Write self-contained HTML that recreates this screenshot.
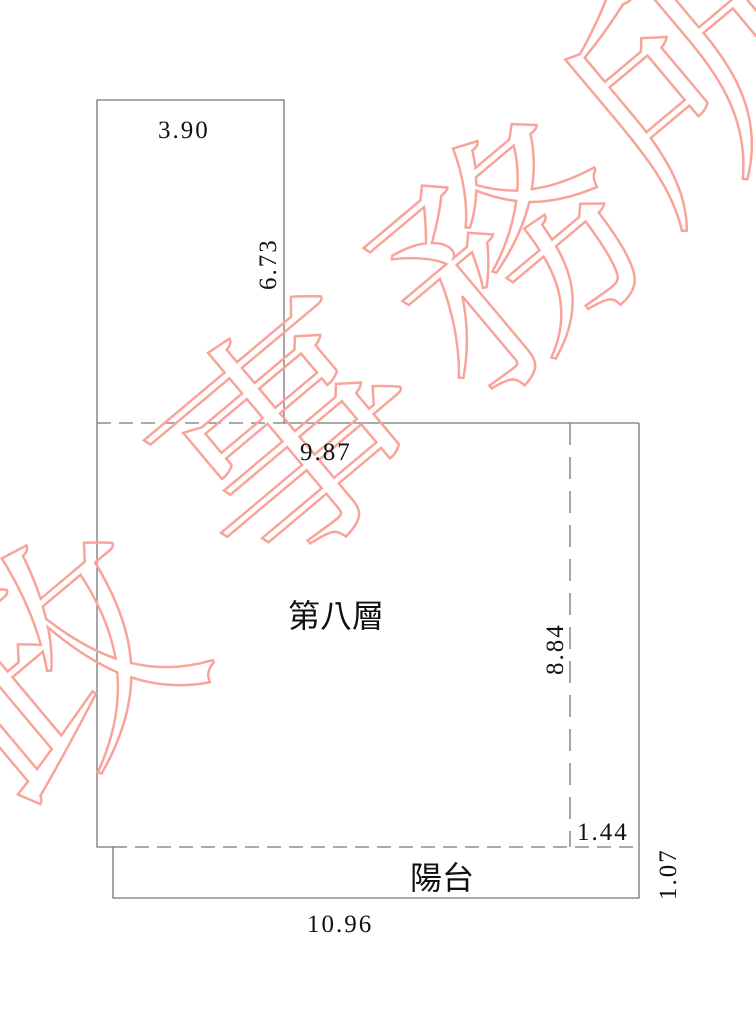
<!DOCTYPE html>
<html><head><meta charset="utf-8"><style>
html,body{margin:0;padding:0;background:#fff;width:756px;height:1012px;overflow:hidden;position:relative}
.w{position:absolute;font-family:"Noto Serif CJK SC","Noto Sans CJK TC",serif;font-size:250px;line-height:1;color:transparent;-webkit-text-stroke:2.5px #f8a49a;transform:translate(-50%,-50%) rotate(-40deg);white-space:nowrap}
.t{position:absolute;font-family:"Liberation Serif","Noto Serif CJK SC",serif;color:#111;font-size:25px;line-height:1;white-space:nowrap}
svg{position:absolute;left:0;top:0}
</style></head><body>
<svg width="756" height="1012">
<g stroke="#777" stroke-width="1.3" fill="none">
<polyline points="97,423 97,100 284,100 284,423"/>
<line x1="97" y1="423" x2="284" y2="423" stroke-dasharray="14,8"/>
<line x1="284" y1="423" x2="639" y2="423"/>
<polyline points="97,423 97,847 113,847 113,898 639,898 639,423"/>
<line x1="113" y1="847" x2="639" y2="847" stroke-dasharray="14,8"/>
<line x1="570" y1="423" x2="570" y2="847" stroke-dasharray="22,12"/>
</g>
</svg>
<div class="w" style="left:50px;top:650px">政</div>
<div class="w" style="left:280px;top:425px">事</div>
<div class="w" style="left:500px;top:240px">務</div>
<div class="w" style="left:690px;top:60px">所</div>
<div class="t" style="left:158px;top:118px;letter-spacing:2px">3.90</div>
<div class="t" style="left:256px;top:290px;transform:rotate(-90deg);transform-origin:0 0;letter-spacing:2px">6.73</div>
<div class="t" style="left:300px;top:440px;letter-spacing:2px">9.87</div>
<div class="t" style="left:288px;top:598px;font-family:'Noto Sans CJK TC',sans-serif;font-size:32px">第八層</div>
<div class="t" style="left:543px;top:675px;transform:rotate(-90deg);transform-origin:0 0;letter-spacing:2px">8.84</div>
<div class="t" style="left:577px;top:820px;letter-spacing:2px">1.44</div>
<div class="t" style="left:410px;top:860px;font-family:'Noto Sans CJK TC',sans-serif;font-size:32px">陽台</div>
<div class="t" style="left:656px;top:900px;transform:rotate(-90deg);transform-origin:0 0;letter-spacing:2px">1.07</div>
<div class="t" style="left:307px;top:912px;letter-spacing:2px">10.96</div>
</body></html>
